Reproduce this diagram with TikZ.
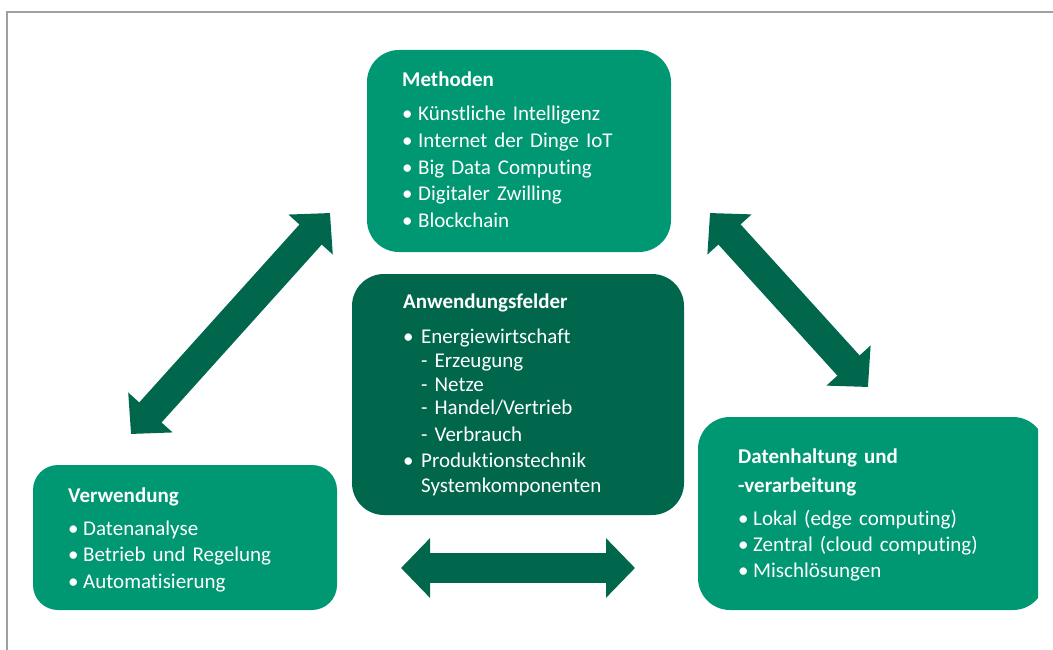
\documentclass[tikz,border=0pt]{standalone}
\usepackage{fontspec}
\setmainfont{Carlito}[Ligatures=NoCommon, WordSpace=0.7]
\usepackage{tikz}
\usetikzlibrary{arrows.meta,positioning}
\definecolor{green}{RGB}{0,152,114}
\definecolor{darkgreen}{RGB}{0,103,77}
\definecolor{frame}{RGB}{160,160,160}
\tikzset{%
  box/.style={fill=green, rounded corners=32, inner sep=0},% field box
  darkbox/.style={box, fill=darkgreen},% centre box
  boxtext/.style={text=white, anchor=base west, inner sep=0, text width=330,
    align=left, font=\fontsize{21}{26.6}\selectfont},% text in a box
  exchange/.style={darkgreen, line width=30,
    {Triangle[length=29pt, width=58pt]}-{Triangle[length=29pt, width=58pt]}}% double arrow
}
\newcommand*{\bul}[1][16pt]{\makebox[#1][l]{\textbullet}}

\begin{document}
\begin{tikzpicture}[x=1pt, y=-1pt]
\useasboundingbox (0,0) rectangle (1053,650);
\draw[frame, line width=2] (6.5,650) -- (6.5,12.5) -- (1053,12.5);

\node[box, minimum width=304, minimum height=202] (meth) at (519,151) {};
\node[darkbox, minimum width=332, minimum height=241] (anw) at (518,394.5) {};
\node[box, rounded corners=25, minimum width=304, minimum height=145] (verw) at (185,537.5) {};
\begin{scope}
  \clip (0,0) rectangle (1038,650);
  \node[box, minimum width=347, minimum height=193] (daten) at (871.5,513.5) {};
\end{scope}

\node[boxtext] (methtxt) at (402,87) {\textbf{Methoden}\\[7.4pt]
  \bul K\"unstliche Intelligenz\\
  \bul Internet der Dinge IoT\\
  \bul Big Data Computing\\
  \bul Digitaler Zwilling\\
  \bul Blockchain};
\node[boxtext, font=\fontsize{21}{24}\selectfont] (anwtxt) at (403,308) {\textbf{Anwendungsfelder}\\[11pt]
  \bul[18pt]Energiewirtschaft\\
  \hspace*{18pt}- Erzeugung\\
  \hspace*{18pt}- Netze\\
  \hspace*{18pt}- Handel/Vertrieb\\[3pt]
  \hspace*{18pt}- Verbrauch\\[2pt]
  \bul[18pt]Produktionstechnik\\[1pt]
  \hspace*{18pt}Systemkomponenten};
\node[boxtext] (verwtxt) at (68,502) {\textbf{Verwendung}\\[6.4pt]
  \bul[15pt]Datenanalyse\\
  \bul[15pt]Betrieb und Regelung\\
  \bul[15pt]Automatisierung};
\node[boxtext] (datentxt) at (738,463) {\textbf{Datenhaltung und}\\[2.4pt]
  \textbf{-verarbeitung}\\[6.4pt]
  \bul[15pt]Lokal (edge computing)\\
  \bul[15pt]Zentral (cloud computing)\\[-1pt]
  \bul[15pt]Mischl\"osungen};

% exchange arrows between the fields
\coordinate (vm1) at (131,434);
\coordinate (vm2) at (330,213);
\coordinate (md1) at (710,213);
\coordinate (md2) at (868,387);
\coordinate (ad1) at (401,568);
\coordinate (ad2) at (635,568);
\draw[exchange] (vm1) -- (vm2);
\draw[exchange] (md1) -- (md2);
\draw[exchange] (ad1) -- (ad2);
\end{tikzpicture}
\end{document}
